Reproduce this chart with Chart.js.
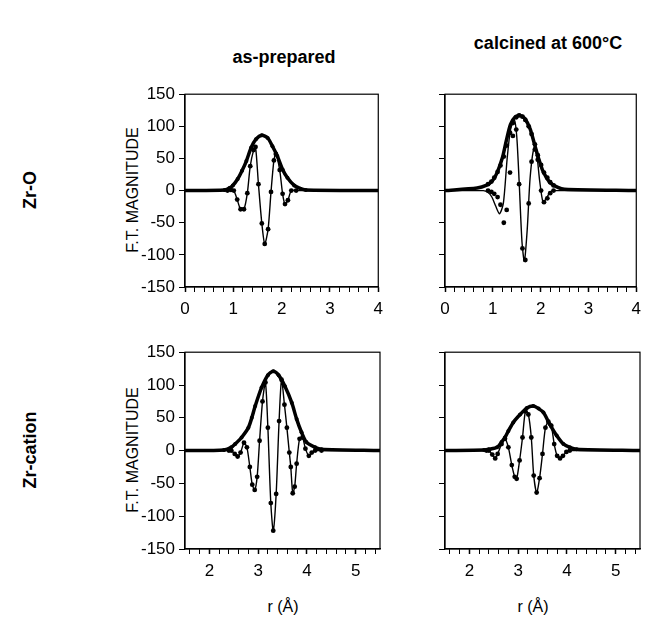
<!DOCTYPE html>
<html>
<head>
<meta charset="utf-8">
<script src="https://cdn.jsdelivr.net/npm/chart.js@4.4.0/dist/chart.umd.min.js"></script>
<style>
  body { margin: 0; background: #fff; width: 648px; height: 624px; position: relative; overflow: hidden;
         font-family: "Liberation Sans", Arial, sans-serif; color: #000; }
  .lbl { position: absolute; white-space: nowrap; color: #000; transform: translate(-50%, -50%); }
  .rot { transform: translate(-50%, -50%) rotate(-90deg); }
  .bold { font-weight: bold; font-size: 18px; }
  canvas { position: absolute; }
</style>
</head>
<body>
<div class="lbl bold" style="left:284px; top:57px;">as-prepared</div>
<div class="lbl bold" style="left:548px; top:43px;">calcined at 600°C</div>
<div class="lbl bold rot" style="left:30px; top:190px;">Zr-O</div>
<div class="lbl bold rot" style="left:30px; top:450px;">Zr-cation</div>
<div class="lbl rot" style="left:133px; top:190px; font-size:16px;">F.T. MAGNITUDE</div>
<div class="lbl rot" style="left:133px; top:450px; font-size:16px;">F.T. MAGNITUDE</div>
<div class="lbl" style="left:283px; top:607px; font-size:16px;">r (Å)</div>
<div class="lbl" style="left:533px; top:607px; font-size:16px;">r (Å)</div>

<canvas id="tl" width="250" height="250" style="left:140px; top:80px;"></canvas>
<canvas id="tr" width="248" height="250" style="left:400px; top:80px;"></canvas>
<canvas id="bl" width="250" height="254" style="left:140px; top:338px;"></canvas>
<canvas id="br" width="248" height="254" style="left:400px; top:338px;"></canvas>

<script>
// tick labels
const xTicksTop = [0, 1, 2, 3, 4];
const xTicksBottom = [2, 3, 4, 5];
const yTicks = [-150, -100, -50, 0, 50, 100, 150];

// Zr-O, as-prepared
const rMagTL = [0, 0.82, 0.92, 0.99, 1.09, 1.18, 1.27, 1.37, 1.47, 1.59, 1.71, 1.81, 1.91, 2.02, 2.12, 2.26, 2.39, 2.5, 4];
const magTL  = [0, 1, 4, 8, 18, 31, 46, 67, 80, 86, 82, 69, 54, 33, 20, 8, 3, 1, 0];
const rImTL  = [0, 0.88, 0.95, 1.01, 1.08, 1.15, 1.22, 1.29, 1.35, 1.42, 1.46, 1.52, 1.59, 1.65, 1.72, 1.78, 1.84, 1.88, 1.96, 2.02, 2.07, 2.13, 2.20, 2.30, 4];
const imTL   = [0, 0, 1, 0, -14, -29, -29, -4, 38, 63, 68, 10, -51, -83, -60, -2, 47, 57, 32, -5, -21, -15, 0, 0, 0];

// Zr-O, calcined (line = experiment, dots = fit)
const rMagTR = [0, 0.67, 0.86, 0.99, 1.09, 1.20, 1.28, 1.37, 1.47, 1.57, 1.67, 1.78, 1.88, 1.95, 2.05, 2.19, 2.36, 2.5, 4];
const magTR  = [0, 4, 8, 15, 28, 51, 77, 103, 115, 117, 112, 96, 70, 52, 30, 13, 5, 2, 0];
const rImTR  = [0, 0.80, 0.90, 0.98, 1.06, 1.14, 1.22, 1.30, 1.37, 1.45, 1.50, 1.55, 1.61, 1.66, 1.72, 1.78, 1.86, 1.92, 1.98, 2.05, 2.12, 2.20, 2.30, 4];
const imTR   = [0, 0, -3, -10, -24, -36, -20, 50, 95, 110, 85, 15, -80, -110, -60, 20, 66, 55, 15, -18, -12, -2, 0, 0];
const rFitTR   = [0.90, 0.97, 1.03, 1.10, 1.16, 1.23, 1.29, 1.36, 1.42, 1.49, 1.55, 1.62, 1.68, 1.75, 1.81, 1.88, 1.94, 2.01, 2.07, 2.14, 2.20, 2.27];
const magFitTR = [10, 14, 20, 29, 39, 53, 70, 90, 105, 114, 117, 115, 110, 100, 88, 72, 55, 40, 28, 20, 13, 8];
const imFitTR  = [0, -2, -5, -10, -22, -50, -30, 28, 85, 95, 10, -90, -108, -20, 45, 64, 48, 0, -18, -12, -4, 0];

// Zr-cation, as-prepared
const rMagBL = [1.5, 2.30, 2.45, 2.53, 2.66, 2.80, 2.87, 2.94, 3.07, 3.20, 3.31, 3.42, 3.55, 3.69, 3.79, 3.89, 3.99, 4.17, 4.30, 5.5];
const magBL  = [0, 1, 5, 10, 20, 35, 50, 68, 96, 115, 121, 115, 98, 73, 48, 28, 13, 5, 2, 0];
const rImBL  = [1.5, 2.40, 2.45, 2.52, 2.58, 2.64, 2.71, 2.77, 2.83, 2.88, 2.93, 2.98, 3.03, 3.09, 3.15, 3.20, 3.26, 3.31, 3.37, 3.43, 3.48, 3.54, 3.59, 3.64, 3.67, 3.71, 3.75, 3.79, 3.85, 3.91, 3.97, 4.04, 4.10, 4.17, 4.30, 5.5];
const imBL   = [0, 0, 0, -5, -9, -3, 12, 5, -25, -52, -60, -40, 15, 75, 104, 35, -80, -122, -66, 45, 108, 70, 35, -3, -25, -65, -55, -20, 18, 20, 3, -8, -3, 0, 0, 0];

// Zr-cation, calcined
const rMagBR = [1.5, 2.30, 2.40, 2.57, 2.66, 2.73, 2.80, 2.90, 3.04, 3.18, 3.31, 3.42, 3.52, 3.65, 3.79, 3.93, 4.06, 4.20, 5.5];
const magBR  = [0, 1, 2, 5, 13, 20, 30, 43, 55, 65, 68, 64, 58, 40, 23, 10, 5, 2, 0];
const rImBR  = [1.5, 2.35, 2.40, 2.47, 2.53, 2.58, 2.66, 2.73, 2.80, 2.87, 2.93, 2.97, 3.03, 3.09, 3.15, 3.21, 3.27, 3.32, 3.38, 3.44, 3.50, 3.56, 3.62, 3.68, 3.74, 3.80, 3.86, 3.92, 3.99, 4.06, 5.5];
const imBR   = [0, 0, 0, -6, -12, -5, 10, 18, 5, -22, -40, -43, -15, 20, 60, 55, 20, -38, -64, -42, -5, 35, 44, 38, 10, -8, -12, -8, -2, 0, 0];

Chart.defaults.font.family = "'Liberation Sans', Arial, sans-serif";
Chart.defaults.color = '#000';

function pts(rs, vs) {
    return rs.map((r, i) => ({ x: r, y: vs[i] }));
}

// draws the closed box round each panel
const framePlugin = {
    id: 'frame',
    afterDraw(chart) {
        const { ctx, chartArea: a } = chart;
        ctx.save();
        ctx.strokeStyle = '#000';
        ctx.lineWidth = 1.2;
        ctx.strokeRect(a.left, a.top, a.right - a.left, a.bottom - a.top);
        ctx.restore();
    }
};

function lineSet(data, width, radius, xMin, xMax) {
    return {
        data: data,
        showLine: true,
        borderColor: '#000',
        backgroundColor: '#000',
        borderWidth: width,
        tension: 0.25,
        pointRadius: (c) => {
            const p = c.raw;
            return (p && (p.x <= xMin || p.x >= xMax)) ? 0 : radius;
        },
        pointBorderWidth: 0,
        pointBackgroundColor: '#000'
    };
}

function dotSet(data) {
    return {
        data: data,
        showLine: false,
        pointRadius: 2.4,
        pointBorderWidth: 0,
        pointBackgroundColor: '#000'
    };
}

function makePanel(id, xMin, xMax, majors, showY, datasets) {
    new Chart(document.getElementById(id), {
        type: 'scatter',
        data: { datasets: datasets },
        options: {
            responsive: false,
            animation: false,
            events: [],
            layout: { padding: { left: 0, right: id.endsWith('r') ? 8 : 10, top: 13, bottom: 0 } },
            plugins: { legend: { display: false }, tooltip: { enabled: false } },
            scales: {
                x: {
                    type: 'linear',
                    min: xMin,
                    max: xMax,
                    afterBuildTicks: (s) => {
                        const t = [];
                        for (let i = Math.ceil(xMin * 5 - 1e-9); i <= Math.floor(xMax * 5 + 1e-9); i++) {
                            t.push({ value: i / 5 });
                        }
                        s.ticks = t;
                    },
                    afterFit: (s) => { s.height = 43; },
                    border: { display: true, color: '#000', width: 1.2 },
                    grid: {
                        drawOnChartArea: false,
                        drawTicks: true,
                        tickLength: 5,
                        tickColor: '#000',
                        tickWidth: (c) => majors.includes(c.tick && c.tick.value) ? 1.5 : 1
                    },
                    ticks: {
                        autoSkip: false,
                        maxRotation: 0,
                        padding: 7,
                        font: { size: 17 },
                        callback: (v) => majors.includes(v) ? String(v) : ''
                    }
                },
                y: {
                    min: -150,
                    max: 150,
                    afterBuildTicks: (s) => { s.ticks = yTicks.map(v => ({ value: v })); },
                    afterFit: (s) => { s.width = 45; },
                    border: { display: true, color: '#000', width: 1.2 },
                    grid: { drawOnChartArea: false, drawTicks: true, tickLength: 6, tickColor: '#000' },
                    ticks: {
                        padding: 4,
                        font: { size: 17 },
                        callback: (v) => showY ? String(v) : ''
                    }
                }
            }
        },
        plugins: [framePlugin]
    });
}

makePanel('tl', 0, 4, xTicksTop, true, [
    lineSet(pts(rMagTL, magTL), 3.5, 2, 0, 4),
    lineSet(pts(rImTL, imTL), 1.4, 2.4, 0, 4)
]);

makePanel('tr', 0, 4, xTicksTop, false, [
    lineSet(pts(rMagTR, magTR), 3.5, 0, 0, 4),
    lineSet(pts(rImTR, imTR), 1.4, 0, 0, 4),
    dotSet(pts(rFitTR, magFitTR)),
    dotSet(pts(rFitTR, imFitTR))
]);

makePanel('bl', 1.5, 5.5, xTicksBottom, true, [
    lineSet(pts(rMagBL, magBL), 3.5, 2, 1.5, 5.5),
    lineSet(pts(rImBL, imBL), 1.4, 2.4, 1.5, 5.5)
]);

makePanel('br', 1.5, 5.5, xTicksBottom, false, [
    lineSet(pts(rMagBR, magBR), 3.5, 2, 1.5, 5.5),
    lineSet(pts(rImBR, imBR), 1.4, 2.4, 1.5, 5.5)
]);
</script>
</body>
</html>
